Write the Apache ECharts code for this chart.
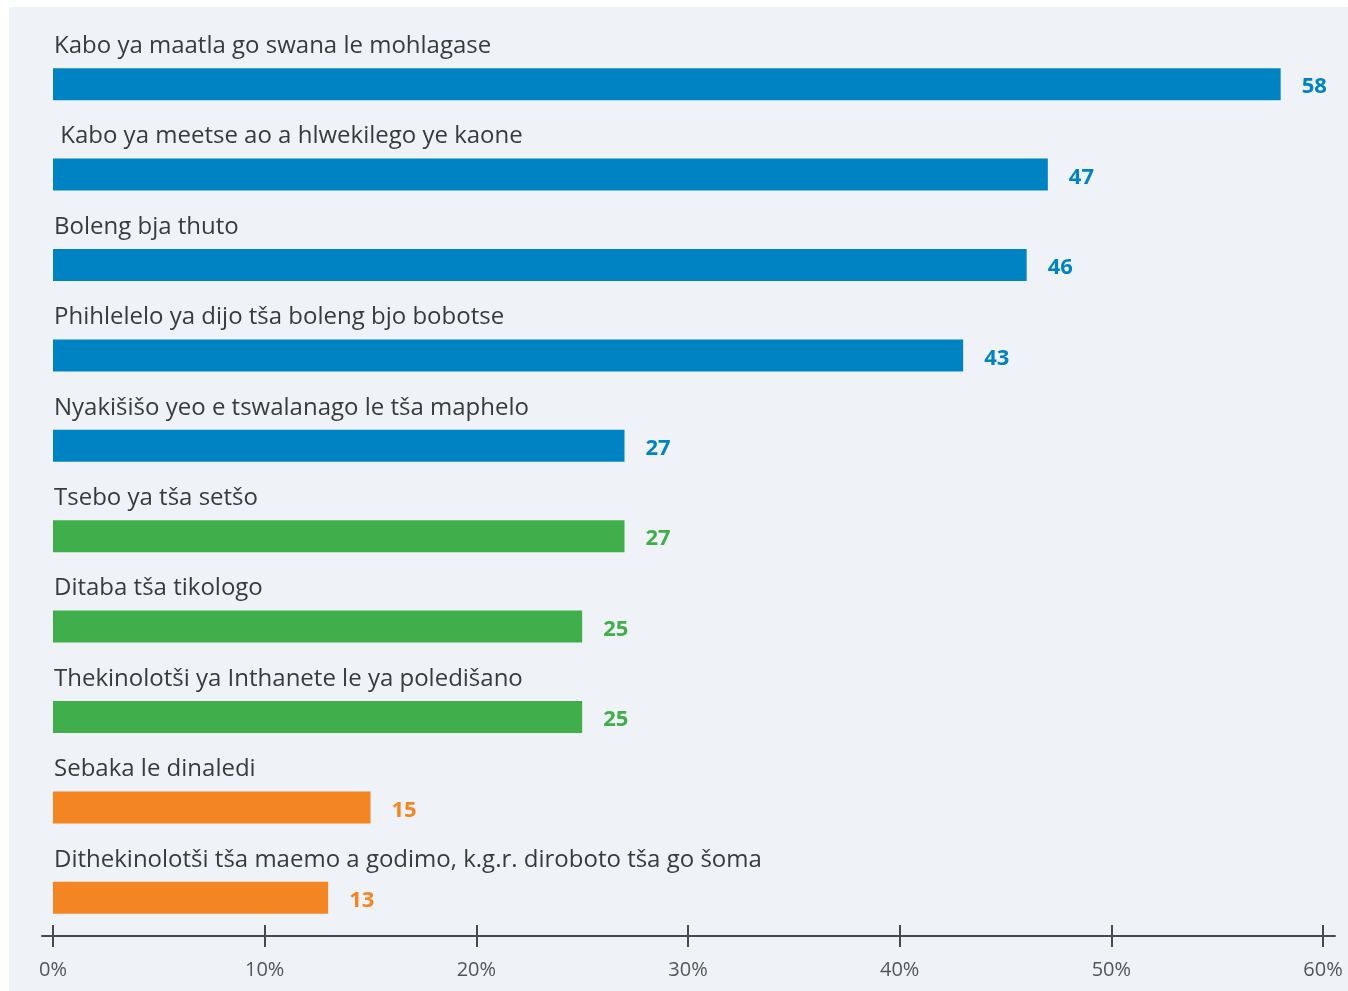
<!DOCTYPE html>
<html>
<head>
<meta charset="utf-8">
<style>
  html, body { margin: 0; padding: 0; background: #ffffff; }
  #chart { position: absolute; left: 9px; top: 7px; width: 1339px; height: 984px; background: #eff3f8; }
</style>
<script src="https://cdn.jsdelivr.net/npm/echarts@6/dist/echarts.min.js"></script>
</head>
<body>
<div id="chart"></div>
<script>
// Survey items, top to bottom
const categories = [
  'Kabo ya maatla go swana le mohlagase',
  ' Kabo ya meetse ao a hlwekilego ye kaone',
  'Boleng bja thuto',
  'Phihlelelo ya dijo tša boleng bjo bobotse',
  'Nyakišišo yeo e tswalanago le tša maphelo',
  'Tsebo ya tša setšo',
  'Ditaba tša tikologo',
  'Thekinolotši ya Inthanete le ya poledišano',
  'Sebaka le dinaledi',
  'Dithekinolotši tša maemo a godimo, k.g.r. diroboto tša go šoma'
];
// Share of respondents (%)
const values = [58, 47, 46, 43, 27, 27, 25, 25, 15, 13];
// Colour group for each item
const groups = ['blue', 'blue', 'blue', 'blue', 'blue', 'green', 'green', 'green', 'orange', 'orange'];
const tickLabels = ['0%', '10%', '20%', '30%', '40%', '50%', '60%'];

const palette = { blue: '#0083c3', green: '#40ae4a', orange: '#f48523' };
const FONT = '"Open Sans", sans-serif';

const chart = echarts.init(document.getElementById('chart'), null, { renderer: 'canvas' });

const axisBase = {
  type: 'value', min: 0, max: 60, interval: 10,
  position: 'bottom', offset: -7,
  splitLine: { show: false }
};

chart.setOption({
  animation: false,
  grid: [
    { left: 44, right: 25, top: 32, bottom: 48, containLabel: false },
    { left: 33, right: 13, top: 32, bottom: 48, containLabel: false }
  ],
  xAxis: [
    // upper half of the cross ticks
    Object.assign({}, axisBase, {
      gridIndex: 0,
      axisLine: { show: false },
      axisTick: { show: true, inside: true, length: 11, lineStyle: { color: '#4a4a4a', width: 2 } },
      axisLabel: { show: false }
    }),
    // lower half of the cross ticks plus the percentage labels
    Object.assign({}, axisBase, {
      gridIndex: 0,
      axisLine: { show: false },
      axisTick: { show: true, inside: false, length: 11, lineStyle: { color: '#4a4a4a', width: 2 } },
      axisLabel: {
        show: true, margin: 24, color: '#555555', fontFamily: FONT, fontSize: 20,
        formatter: v => tickLabels[Math.round(v / 10)]
      }
    }),
    // baseline that runs a little past both end ticks
    {
      type: 'value', gridIndex: 1, min: 0, max: 1, position: 'bottom', offset: -7,
      axisLine: { show: true, lineStyle: { color: '#4a4a4a', width: 2 } },
      axisTick: { show: false }, axisLabel: { show: false }, splitLine: { show: false }
    }
  ],
  yAxis: [
    {
      type: 'category', gridIndex: 0, data: categories, inverse: true,
      axisLine: { show: false }, axisTick: { show: false }, splitLine: { show: false },
      axisLabel: {
        inside: true, margin: 1, interval: 0,
        verticalAlign: 'middle',
        // two-line rich label: the name sits on the upper line, above its bar
        formatter: name => '{t|' + name + '}\n{s|}',
        rich: {
          t: { color: '#3a3a3a', fontFamily: FONT, fontSize: 24, lineHeight: 76 },
          s: { fontSize: 1, lineHeight: 76 }
        }
      }
    },
    {
      type: 'category', gridIndex: 1, data: categories, show: false
    }
  ],
  series: [{
    type: 'bar',
    xAxisIndex: 0, yAxisIndex: 0,
    barWidth: 32,
    data: values.map((v, i) => ({
      value: v,
      itemStyle: { color: palette[groups[i]] },
      label: { color: palette[groups[i]] }
    })),
    label: {
      show: true, position: 'right', distance: 21,
      fontFamily: FONT, fontWeight: 'bold', fontSize: 22,
      offset: [0, 3]
    }
  }]
});
</script>
</body>
</html>
